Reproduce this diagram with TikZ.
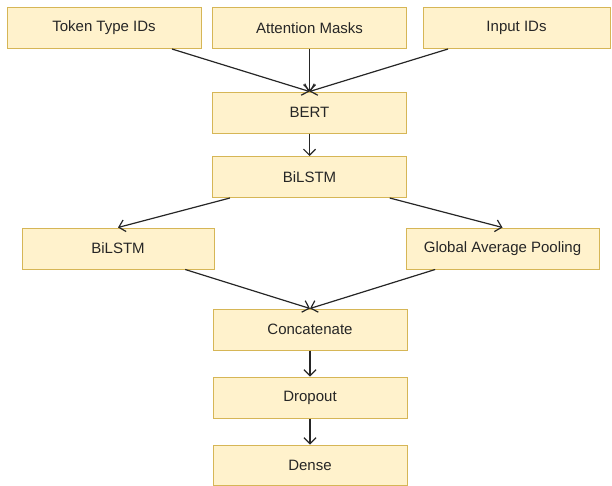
\documentclass[tikz,border=0pt]{standalone}
\usepackage{fontspec}
\setmainfont{Liberation Sans}
\usepackage{xcolor}
\usetikzlibrary{arrows.meta}
\definecolor{boxfill}{HTML}{FFF2CC}
\definecolor{boxline}{HTML}{D6B656}
\definecolor{txt}{HTML}{262626}
\begin{document}
\begin{tikzpicture}[x=1pt,y=-1pt]
\tikzset{>={Straight Barb[length=6pt,width=12pt,line width=1.2pt]}}
\tikzstyle{block} =[rectangle, draw = boxline, fill = boxfill, line width=1pt, text=txt, minimum width=194pt, minimum height=41pt, inner sep=0pt, font=\fontsize{15}{18}\selectfont]
\tikzstyle{link} =[->, line width=1.2pt, draw=black!85]
\useasboundingbox (0,0) rectangle (612,485);
\node[block](tti) at (104,28){Token Type IDs};
\node[block](am) at (309.5,28){Attention Masks};
\node[block,minimum width=187pt](iid) at (516.5,28){Input IDs};
\node[block](bert) at (309.5,112.5){BERT};
\node[block](bilstm) at (309.5,177){BiLSTM};
\node[block,minimum width=192pt](bilstmb) at (118,248.5){BiLSTM};
\node[block,minimum width=193pt](gap) at (502.5,248.5){Global Average Pooling};
\node[block](concat) at (310,329.5){Concatenate};
\node[block](drop) at (310,397.5){Dropout};
\node[block,minimum height=40pt](dense) at (310,465){Dense};

\draw [link] (tti) to (bert.north);
\draw [link] (am) to (bert);
\draw [link] (iid) to (bert.north);
\draw [link] (bert) to (bilstm);
\draw [link] (bilstm) to (bilstmb.north);
\draw [link] (bilstm) to (gap.north);
\draw [link] (bilstmb) to (concat.north);
\draw [link] (gap) to (concat.north);
\draw [link] (concat) to (drop);
\draw [link] (drop) to (dense);
\end{tikzpicture}
\end{document}
